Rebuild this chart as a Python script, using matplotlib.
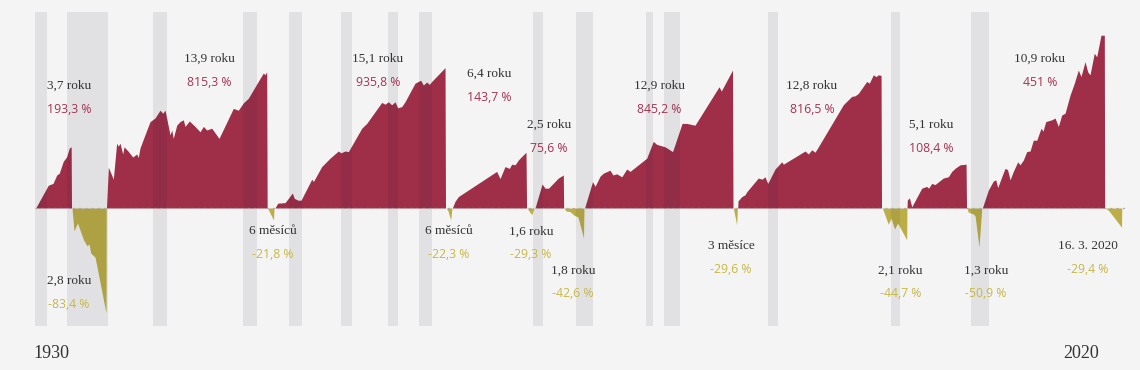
import matplotlib
matplotlib.use("Agg")
import matplotlib.pyplot as plt

# Býčí a medvědí trhy: x = rok, y = ln(1 + kumulovaný výnos), čteno z obrázku
bull1_x = [1926.56, 1927.65, 1928.06, 1928.38, 1928.60, 1928.95, 1929.23, 1929.47, 1929.63, 1929.66]
bull1_y = [0, 0.38, 0.41, 0.55, 0.58, 0.78, 0.85, 1.00, 1.02, 0]

bear1_x = [1929.70, 1929.88, 1930.18, 1930.40, 1930.70, 1931.00, 1931.18, 1931.32, 1931.70, 1932.65, 1932.67]
bear1_y = [0, -0.38, -0.25, -0.37, -0.53, -0.63, -0.60, -0.75, -0.82, -1.75, 0]

bull2_x = [1932.69, 1932.85, 1933.28, 1933.57, 1933.71, 1933.86, 1934.09, 1934.21, 1934.55, 1934.96,
           1935.31, 1935.44, 1935.59, 1936.02, 1936.46, 1936.89, 1937.32, 1937.56, 1937.76, 1938.19,
           1938.34, 1938.47, 1938.77, 1939.05, 1939.34, 1939.49, 1939.86, 1940.35, 1940.79, 1941.07,
           1941.37, 1941.80, 1942.43, 1943.67, 1944.10, 1944.53, 1944.97, 1945.40, 1945.83, 1946.27,
           1946.41, 1946.56, 1946.60]
bull2_y = [0, 0.68, 0.48, 1.08, 1.03, 1.08, 0.90, 1.02, 0.95, 0.85,
           0.90, 0.84, 1.00, 1.22, 1.44, 1.50, 1.63, 1.58, 1.63, 1.22,
           1.30, 1.16, 1.38, 1.44, 1.47, 1.36, 1.45, 1.36, 1.27, 1.36,
           1.30, 1.33, 1.16, 1.66, 1.63, 1.75, 1.83, 1.97, 2.11, 2.25,
           2.22, 2.27, 0]

bear2_x = [1946.63, 1947.15, 1947.19]
bear2_y = [0, -0.20, 0]

bull3_x = [1947.28, 1947.51, 1948.15, 1948.43, 1948.78, 1948.95, 1949.27, 1949.53, 1950.46, 1950.60,
           1951.32, 1952.04, 1952.76, 1952.99, 1953.34, 1953.63, 1954.79, 1955.22, 1956.52, 1956.80,
           1957.09, 1957.38, 1957.67, 1957.90, 1958.25, 1958.53, 1959.40, 1959.69, 1959.89, 1960.12,
           1960.41, 1960.64, 1960.85, 1962.00, 1962.04]
bull3_y = [0, 0.08, 0.09, 0.16, 0.25, 0.16, 0.13, 0.13, 0.48, 0.44,
           0.69, 0.83, 0.95, 0.92, 0.95, 0.94, 1.33, 1.41, 1.76, 1.73,
           1.77, 1.72, 1.77, 1.67, 1.69, 1.77, 2.08, 2.11, 2.13, 2.05,
           2.10, 2.06, 2.11, 2.34, 0]

bear3_x = [1962.11, 1962.26, 1962.49, 1962.60]
bear3_y = [0, -0.05, -0.20, 0]

bull4_x = [1962.63, 1962.86, 1963.15, 1966.47, 1966.76, 1967.19, 1967.57, 1967.77, 1968.06, 1968.35,
           1968.49, 1969.01, 1969.06]
bull4_y = [0, 0.11, 0.19, 0.61, 0.49, 0.69, 0.66, 0.73, 0.72, 0.80, 0.83, 0.93, 0]

bear4_x = [1969.10, 1969.27, 1969.51, 1969.70]
bear4_y = [0, -0.05, -0.11, 0]

bull5_x = [1969.79, 1970.40, 1970.66, 1970.96, 1971.81, 1972.24, 1972.27]
bull5_y = [0, 0.40, 0.33, 0.33, 0.50, 0.55, 0]

bear5_x = [1972.30, 1972.47, 1972.82, 1973.17, 1973.51, 1973.99, 1974.03]
bear5_y = [0, -0.05, -0.06, -0.12, -0.15, -0.50, 0]

bull6_x = [1974.08, 1974.77, 1974.99, 1975.42, 1975.70, 1976.28, 1976.54, 1976.86, 1977.30, 1977.73,
           1978.02, 1979.46, 1980.03, 1980.33, 1981.05, 1981.70, 1982.52, 1982.92, 1983.64, 1983.90,
           1985.72, 1985.92, 1986.89, 1986.93]
bull6_y = [0, 0.44, 0.36, 0.53, 0.58, 0.63, 0.55, 0.57, 0.52, 0.65,
           0.61, 0.83, 1.11, 1.06, 1.02, 0.94, 1.41, 1.41, 1.38, 1.46,
           2.02, 1.95, 2.30, 0]

bear6_x = [1986.96, 1987.25, 1987.31]
bear6_y = [0, -0.28, 0]

bull7_x = [1987.34, 1987.37, 1987.69, 1987.97, 1988.12, 1989.12, 1989.44, 1989.70, 1989.94, 1990.57,
           1991.15, 1991.29, 1993.17, 1993.45, 1993.75, 1994.03, 1994.32, 1996.48, 1996.63, 1997.21,
           1997.50, 1997.78, 1998.51, 1998.73, 1999.08, 1999.31, 1999.51, 1999.75, 1999.79]
bull7_y = [0, 0.12, 0.19, 0.22, 0.27, 0.50, 0.48, 0.52, 0.41, 0.65,
           0.77, 0.73, 0.95, 0.90, 0.97, 0.93, 1.02, 1.72, 1.75, 1.86,
           1.87, 1.91, 2.11, 2.08, 2.22, 2.19, 2.22, 2.21, 0]

bear7_x = [1999.86, 2000.38, 2000.61, 2000.92, 2001.18, 2001.97, 2001.99]
bear7_y = [0, -0.27, -0.17, -0.35, -0.25, -0.53, 0]

bull8_x = [2002.00, 2002.02, 2002.20, 2002.41, 2003.27, 2003.70, 2003.86, 2004.14, 2004.42, 2005.14,
           2005.57, 2005.87, 2006.15, 2006.59, 2007.11, 2007.15]
bull8_y = [0, 0.13, 0.17, 0.02, 0.33, 0.36, 0.33, 0.41, 0.39, 0.50, 0.52, 0.61, 0.66, 0.72, 0.73, 0]

bear8_x = [2007.17, 2007.31, 2007.74, 2007.89, 2008.23, 2008.47]
bear8_y = [0, -0.07, -0.10, -0.13, -0.65, 0]

bull9_x = [2008.52, 2009.04, 2009.47, 2009.68, 2009.85, 2010.20, 2010.48, 2010.70, 2010.92, 2011.20,
           2011.58, 2011.78, 2012.07, 2012.36, 2012.65, 2012.93, 2013.23, 2013.60, 2013.77, 2014.01,
           2014.53, 2014.81, 2015.10, 2015.39, 2015.68, 2016.11, 2016.48, 2016.83, 2017.06, 2017.41,
           2017.64, 2017.84, 2018.21, 2018.42, 2018.79, 2019.08, 2019.11]
bull9_y = [0, 0.30, 0.45, 0.47, 0.34, 0.52, 0.66, 0.64, 0.47, 0.61,
           0.77, 0.72, 0.80, 0.94, 0.95, 1.13, 1.13, 1.33, 1.28, 1.44,
           1.47, 1.50, 1.36, 1.55, 1.58, 1.88, 2.08, 2.30, 2.19, 2.44,
           2.27, 2.22, 2.58, 2.52, 2.88, 2.88, 0]

bear9_x = [2019.18, 2019.49, 2020.57, 2020.59]
bear9_y = [0, -0.05, -0.32, 0]

# recese (šedé pruhy)
recession_start = [1926.50, 1929.30, 1936.74, 1944.53, 1948.49, 1952.97, 1957.09, 1959.72,
                   1969.59, 1973.34, 1979.40, 1980.96, 1989.99, 2000.59, 2007.57]
recession_end = [1927.51, 1932.79, 1937.90, 1945.70, 1949.64, 1953.97, 1957.95, 1960.85,
                 1970.46, 1974.84, 1980.03, 1982.37, 1990.83, 2001.39, 2009.07]

durations = ["3,7 roku", "2,8 roku", "13,9 roku", "6 měsíců", "15,1 roku", "6 měsíců",
             "6,4 roku", "1,6 roku", "2,5 roku", "1,8 roku", "12,9 roku", "3 měsíce",
             "12,8 roku", "2,1 roku", "5,1 roku", "1,3 roku", "10,9 roku", "16. 3. 2020"]
returns = ["193,3 %", "-83,4 %", "815,3 %", "-21,8 %", "935,8 %", "-22,3 %",
           "143,7 %", "-29,3 %", "75,6 %", "-42,6 %", "845,2 %", "-29,6 %",
           "816,5 %", "-44,7 %", "108,4 %", "-50,9 %", "451 %", "-29,4 %"]

bulls = [(bull1_x, bull1_y), (bull2_x, bull2_y), (bull3_x, bull3_y), (bull4_x, bull4_y),
         (bull5_x, bull5_y), (bull6_x, bull6_y), (bull7_x, bull7_y), (bull8_x, bull8_y),
         (bull9_x, bull9_y)]
bears = [(bear1_x, bear1_y), (bear2_x, bear2_y), (bear3_x, bear3_y), (bear4_x, bear4_y),
         (bear5_x, bear5_y), (bear6_x, bear6_y), (bear7_x, bear7_y), (bear8_x, bear8_y),
         (bear9_x, bear9_y)]

# label placement (year, baseline of the duration line)
label_pos = [(1929.44, 1.99), (1929.44, -1.26), (1941.57, 2.43), (1947.06, -0.44),
             (1956.20, 2.43), (1962.31, -0.44), (1965.85, 2.19), (1969.44, -0.44),
             (1971.00, 1.33), (1973.08, -1.09), (1980.53, 1.99), (1986.76, -0.68),
             (1993.77, 1.99), (2001.45, -1.09), (2004.10, 1.33), (2008.84, -1.09),
             (2013.51, 2.43), (2017.64, -0.68)]

BG = "#f4f4f4"
BULL = "#9f2e49"
BEAR = "#bbae46"
BULL_TXT = "#a53452"
BEAR_TXT = "#c6b845"
DARK = "#333333"
SERIF = ["Liberation Serif", "DejaVu Serif"]
SANS = ["Open Sans", "DejaVu Sans"]

fig = plt.figure(figsize=(11.4, 3.7), dpi=100, facecolor=BG)
ax = fig.add_axes([35 / 1140, 1 - 325.7 / 370, 1090 / 1140, 313.4 / 370])
ax.set_facecolor(BG)
ax.set_xlim(1926.5, 2020.87)
ax.set_ylim(-1.962, 3.262)
ax.axis("off")

for x, y in bulls:
    ax.fill_between(x, 0, y, color=BULL, lw=0, zorder=2)
for x, y in bears:
    ax.fill_between(x, 0, y, color=BEAR, lw=0, zorder=2)

for s, e in zip(recession_start, recession_end):
    ax.axvspan(s, e, color="#14192d", alpha=0.082, lw=0, zorder=3)

ax.axhline(0, color="#a8a8a8", lw=0.9, ls=(0, (1.5, 3.5)), zorder=4)

for (lx, ly), dur, ret in zip(label_pos, durations, returns):
    col = BEAR_TXT if ret.startswith("-") else BULL_TXT
    ax.text(lx, ly, dur, ha="center", va="baseline", fontsize=9.5,
            family=SERIF, color=DARK, zorder=5)
    ax.text(lx, ly - 0.40, ret, ha="center", va="baseline", fontsize=8.8,
            family=SANS, color=col, zorder=5)

fig.text(33 / 1140, 1 - 358 / 370, "1930", ha="left", va="baseline",
         fontsize=13, family=SERIF, color=DARK)
fig.text(1099 / 1140, 1 - 358 / 370, "2020", ha="right", va="baseline",
         fontsize=13, family=SERIF, color=DARK)

fig.savefig("out.png", dpi=100, facecolor=BG)
